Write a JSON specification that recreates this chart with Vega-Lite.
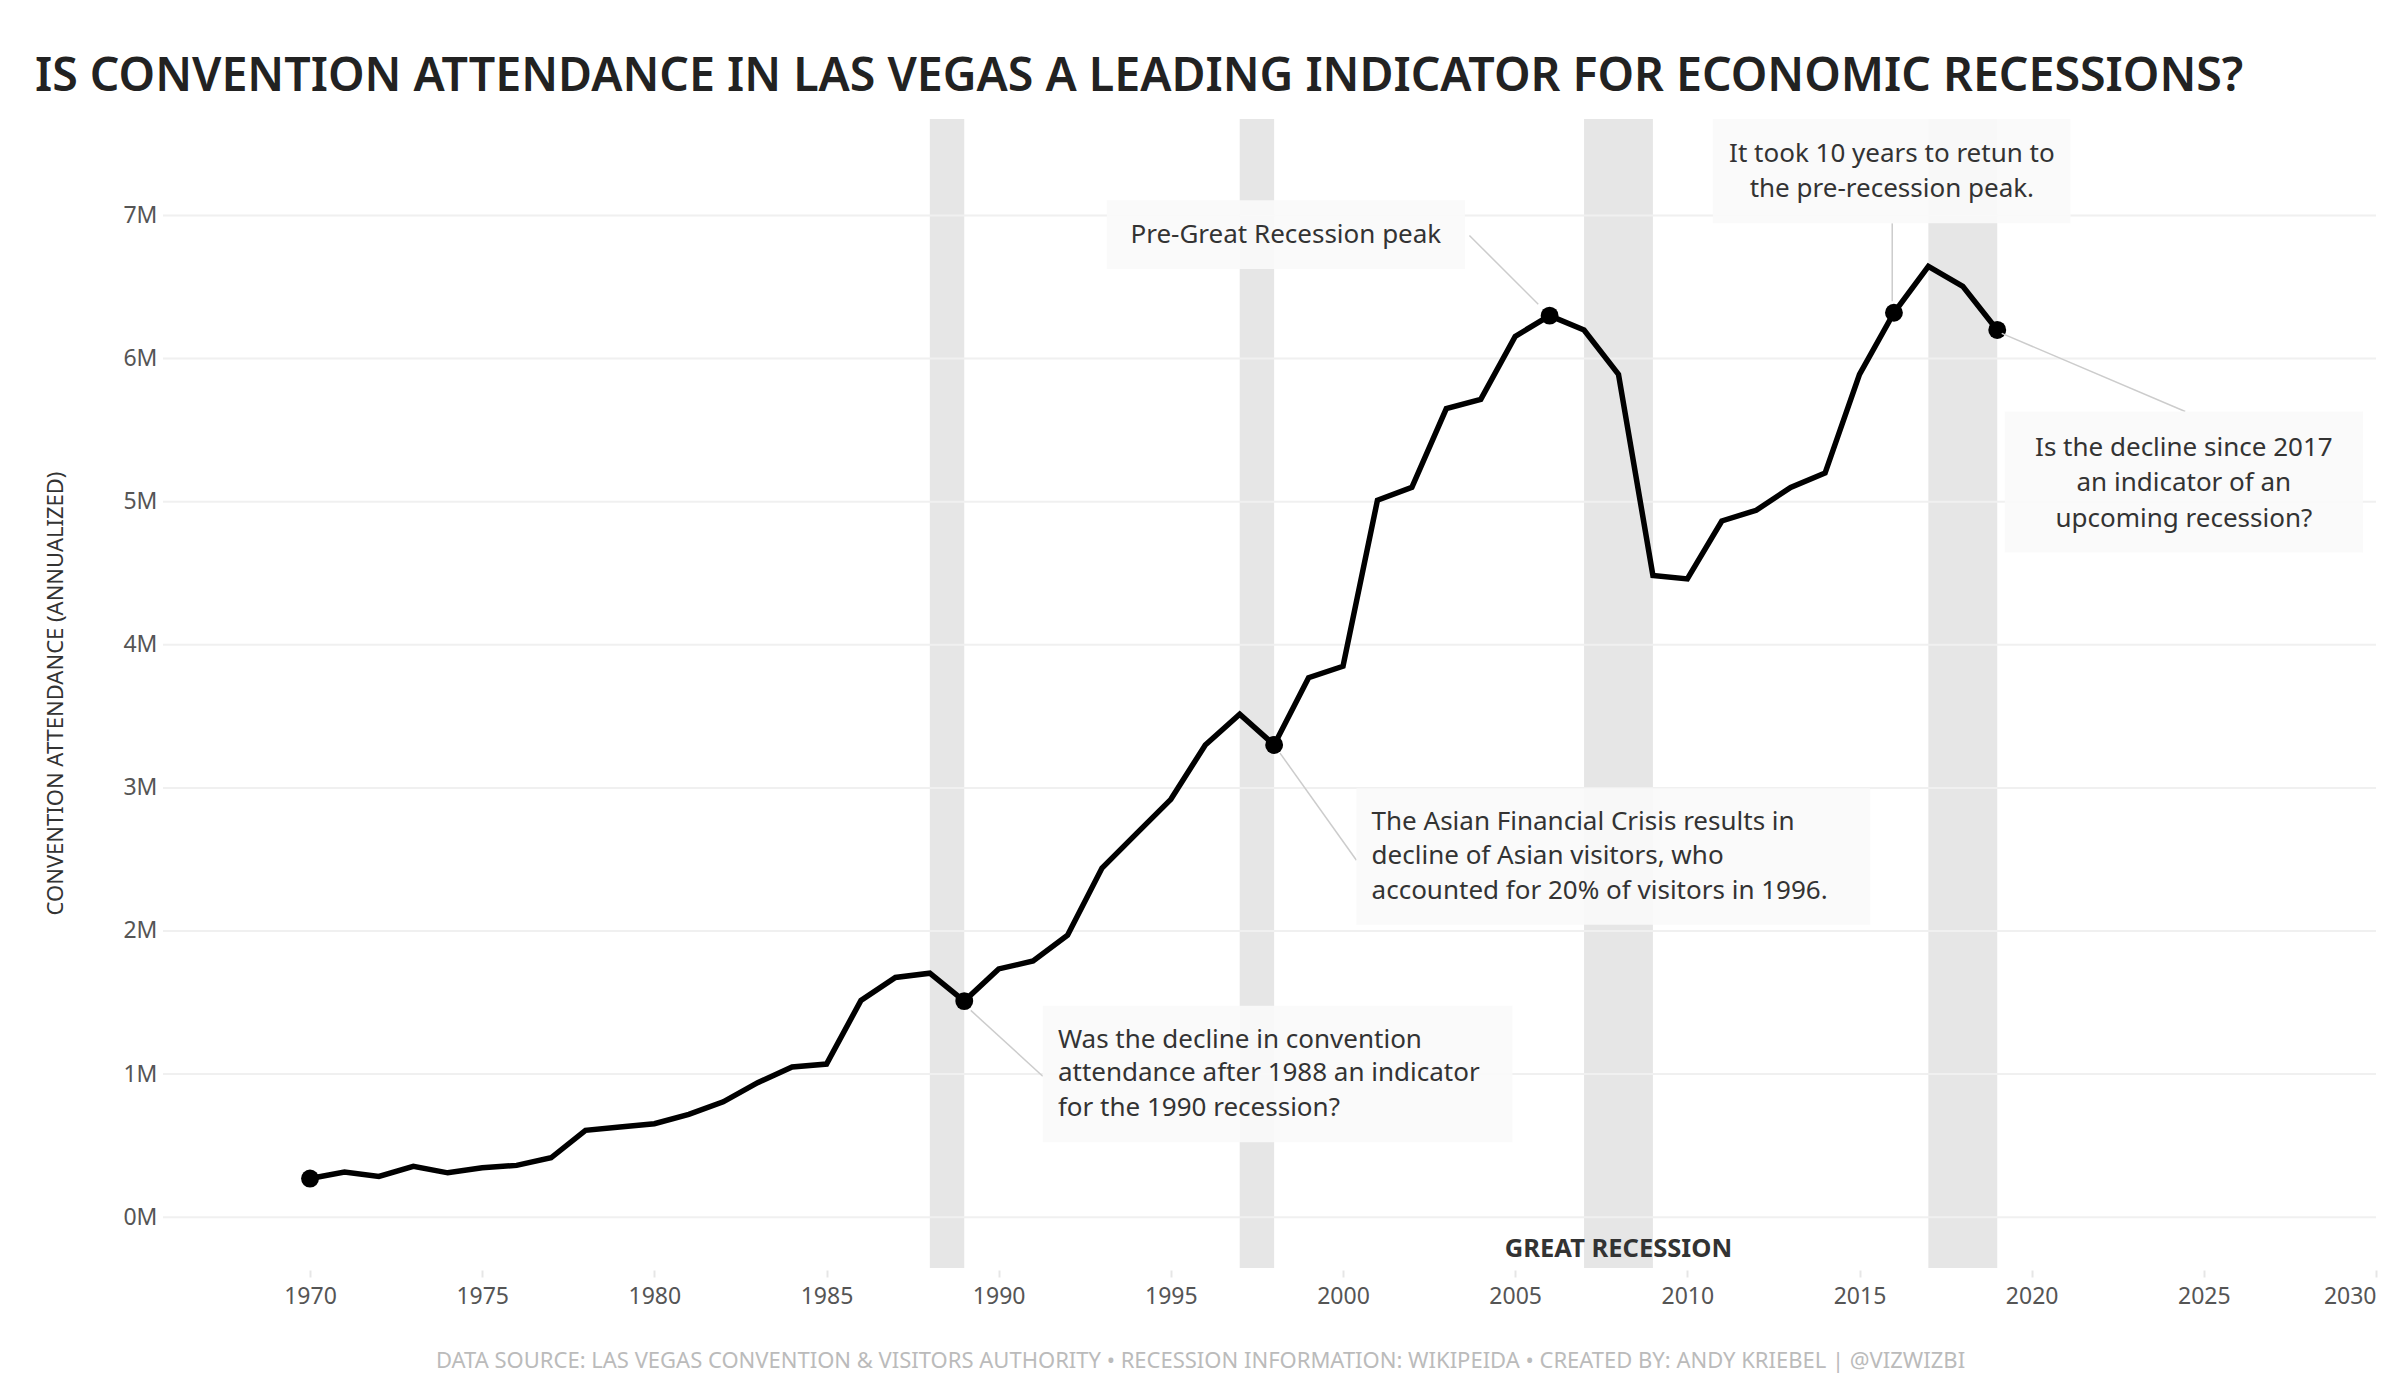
{
  "$schema": "https://vega.github.io/schema/vega-lite/v6.json",
  "width": 2213,
  "height": 1149,
  "autosize": {"type": "none"},
  "padding": {"left": 163, "top": 119, "right": 24, "bottom": 132},
  "background": "white",
  "config": {
    "view": {"stroke": null},
    "font": "Noto Sans"
  },
  "title": {
    "text": "IS CONVENTION ATTENDANCE IN LAS VEGAS A LEADING INDICATOR FOR ECONOMIC RECESSIONS?",
    "anchor": "start",
    "frame": "group",
    "dx": -128,
    "dy": 49,
    "offset": 31,
    "baseline": "alphabetic",
    "fontSize": 46.5,
    "fontWeight": 600,
    "color": "#222222",
    "font": "Noto Sans"
  },
  "datasets": {
    "attendance": [
      {"year": 1970, "attendance": 270000},
      {"year": 1971, "attendance": 315000},
      {"year": 1972, "attendance": 285000},
      {"year": 1973, "attendance": 355000},
      {"year": 1974, "attendance": 310000},
      {"year": 1975, "attendance": 345000},
      {"year": 1976, "attendance": 362000},
      {"year": 1977, "attendance": 415000},
      {"year": 1978, "attendance": 607000},
      {"year": 1979, "attendance": 630000},
      {"year": 1980, "attendance": 653000},
      {"year": 1981, "attendance": 718000},
      {"year": 1982, "attendance": 806000},
      {"year": 1983, "attendance": 940000},
      {"year": 1984, "attendance": 1050000},
      {"year": 1985, "attendance": 1070000},
      {"year": 1986, "attendance": 1515000},
      {"year": 1987, "attendance": 1675000},
      {"year": 1988, "attendance": 1705000},
      {"year": 1989, "attendance": 1510000},
      {"year": 1990, "attendance": 1735000},
      {"year": 1991, "attendance": 1790000},
      {"year": 1992, "attendance": 1970000},
      {"year": 1993, "attendance": 2440000},
      {"year": 1994, "attendance": 2680000},
      {"year": 1995, "attendance": 2920000},
      {"year": 1996, "attendance": 3300000},
      {"year": 1997, "attendance": 3515000},
      {"year": 1998, "attendance": 3300000},
      {"year": 1999, "attendance": 3770000},
      {"year": 2000, "attendance": 3850000},
      {"year": 2001, "attendance": 5010000},
      {"year": 2002, "attendance": 5100000},
      {"year": 2003, "attendance": 5650000},
      {"year": 2004, "attendance": 5715000},
      {"year": 2005, "attendance": 6155000},
      {"year": 2006, "attendance": 6300000},
      {"year": 2007, "attendance": 6200000},
      {"year": 2008, "attendance": 5890000},
      {"year": 2009, "attendance": 4485000},
      {"year": 2010, "attendance": 4460000},
      {"year": 2011, "attendance": 4865000},
      {"year": 2012, "attendance": 4940000},
      {"year": 2013, "attendance": 5100000},
      {"year": 2014, "attendance": 5200000},
      {"year": 2015, "attendance": 5890000},
      {"year": 2016, "attendance": 6320000},
      {"year": 2017, "attendance": 6645000},
      {"year": 2018, "attendance": 6505000},
      {"year": 2019, "attendance": 6200000}
    ],
    "recessions": [
      {"start": 1988, "end": 1989},
      {"start": 1997, "end": 1998},
      {"start": 2007, "end": 2009},
      {"start": 2017, "end": 2019}
    ],
    "gridlines": [
      {"value": 0}, {"value": 1000000}, {"value": 2000000}, {"value": 3000000},
      {"value": 4000000}, {"value": 5000000}, {"value": 6000000}, {"value": 7000000}
    ],
    "bandLabels": [
      {"year": 2008, "value": -225000, "label": "GREAT RECESSION"}
    ],
    "connectors": [
      {"x1": 2003.67, "y1": 6860000, "x2": 2005.67, "y2": 6380000},
      {"x1": 2015.95, "y1": 6946000, "x2": 2015.95, "y2": 6400000},
      {"x1": 2019.13, "y1": 6176000, "x2": 2024.46, "y2": 5630000},
      {"x1": 1998.17, "y1": 3243000, "x2": 2000.39, "y2": 2494000},
      {"x1": 1989.19, "y1": 1445000, "x2": 1991.28, "y2": 985000}
    ],
    "boxes": [
      {"x1": 1993.14, "x2": 2003.54, "y1": 7107000, "y2": 6625000},
      {"x1": 2010.74, "x2": 2021.13, "y1": 7674000, "y2": 6946000},
      {"x1": 2019.22, "x2": 2029.62, "y1": 5630000, "y2": 4645000},
      {"x1": 2000.39, "x2": 2015.31, "y1": 2997000, "y2": 2044000},
      {"x1": 1991.28, "x2": 2004.92, "y1": 1477000, "y2": 524000}
    ],
    "notes": [
      {"x": 1998.34, "y": 6866000, "text": "Pre-Great Recession peak", "align": "center"},
      {"x": 2015.94, "y": 7428000, "text": "It took 10 years to retun to", "align": "center"},
      {"x": 2015.94, "y": 7182000, "text": "the pre-recession peak.", "align": "center"},
      {"x": 2024.42, "y": 5373000, "text": "Is the decline since 2017", "align": "center"},
      {"x": 2024.42, "y": 5127000, "text": "an indicator of an", "align": "center"},
      {"x": 2024.42, "y": 4881000, "text": "upcoming recession?", "align": "center"},
      {"x": 2000.83, "y": 2761000, "text": "The Asian Financial Crisis results in", "align": "left"},
      {"x": 2000.83, "y": 2526000, "text": "decline of Asian visitors, who", "align": "left"},
      {"x": 2000.83, "y": 2280000, "text": "accounted for 20% of visitors in 1996.", "align": "left"},
      {"x": 1991.72, "y": 1241600, "text": "Was the decline in convention", "align": "left"},
      {"x": 1991.72, "y": 1006000, "text": "attendance after 1988 an indicator", "align": "left"},
      {"x": 1991.72, "y": 760000, "text": "for the 1990 recession?", "align": "left"}
    ]
  },
  "encoding": {
    "x": {
      "type": "quantitative",
      "scale": {"domain": [1965.73, 2030], "nice": false, "zero": false}
    },
    "y": {
      "type": "quantitative",
      "scale": {"domain": [-355000, 7674000], "nice": false, "zero": false}
    }
  },
  "layer": [
    {
      "data": {"name": "recessions"},
      "mark": {"type": "rect", "color": "#e6e6e6"},
      "encoding": {
        "x": {
          "field": "start",
          "type": "quantitative",
          "scale": {"domain": [1965.73, 2030], "nice": false, "zero": false},
          "axis": {
            "values": [1970, 1975, 1980, 1985, 1990, 1995, 2000, 2005, 2010, 2015, 2020, 2025, 2030],
            "format": "d",
            "grid": false,
            "domain": false,
            "ticks": true,
            "tickColor": "#e6e6e6",
            "tickSize": 7,
            "tickWidth": 2,
            "offset": 2,
            "labelFontSize": 23,
            "labelColor": "#555555",
            "labelPadding": 8,
            "labelFlush": true,
            "labelFont": "Noto Sans",
            "title": "DATA SOURCE: LAS VEGAS CONVENTION & VISITORS AUTHORITY • RECESSION INFORMATION: WIKIPEIDA • CREATED BY: ANDY KRIEBEL | @VIZWIZBI",
            "titleFontSize": 22,
            "titleFontWeight": "normal",
            "titleColor": "#bbbbbb",
            "titleFont": "Noto Sans",
            "titleX": 1037,
            "titleY": 90,
            "titleBaseline": "middle",
            "titleAlign": "center",
            "titleAnchor": null
          }
        },
        "x2": {"field": "end"}
      }
    },
    {
      "data": {"name": "gridlines"},
      "mark": {"type": "rule", "color": "#f0f0f0", "strokeWidth": 2},
      "encoding": {
        "y": {
          "field": "value",
          "type": "quantitative",
          "scale": {"domain": [-355000, 7674000], "nice": false, "zero": false},
          "axis": {
            "values": [0, 1000000, 2000000, 3000000, 4000000, 5000000, 6000000, 7000000],
            "labelExpr": "format(datum.value / 1000000, 'd') + 'M'",
            "grid": false,
            "domain": false,
            "ticks": false,
            "labelFontSize": 23,
            "labelColor": "#555555",
            "labelPadding": 6,
            "labelFont": "Noto Sans",
            "title": "CONVENTION ATTENDANCE (ANNUALIZED)",
            "titleFontSize": 22,
            "titleFontWeight": "normal",
            "titleColor": "#333333",
            "titleFont": "Noto Sans",
            "titleAngle": -90,
            "titleX": -108,
            "titleY": 574,
            "titleBaseline": "middle",
            "titleAlign": "center",
            "titleAnchor": null
          }
        }
      }
    },
    {
      "data": {"name": "attendance"},
      "mark": {"type": "line", "color": "#000000", "strokeWidth": 5.5, "strokeJoin": "miter"},
      "encoding": {
        "x": {"field": "year", "type": "quantitative"},
        "y": {"field": "attendance", "type": "quantitative"}
      }
    },
    {
      "data": {"name": "attendance"},
      "transform": [{"filter": {"field": "year", "oneOf": [1970, 1989, 1998, 2006, 2016, 2019]}}],
      "mark": {"type": "circle", "color": "#000000", "opacity": 1, "size": 320},
      "encoding": {
        "x": {"field": "year", "type": "quantitative"},
        "y": {"field": "attendance", "type": "quantitative"}
      }
    },
    {
      "data": {"name": "bandLabels"},
      "mark": {"type": "text", "fontSize": 25.5, "fontWeight": "bold", "color": "#333333", "align": "center", "baseline": "middle", "font": "Noto Sans"},
      "encoding": {
        "x": {"field": "year", "type": "quantitative"},
        "y": {"field": "value", "type": "quantitative"},
        "text": {"field": "label"}
      }
    },
    {
      "data": {"name": "connectors"},
      "mark": {"type": "rule", "color": "#cccccc", "strokeWidth": 1.5},
      "encoding": {
        "x": {"field": "x1", "type": "quantitative"},
        "y": {"field": "y1", "type": "quantitative"},
        "x2": {"field": "x2"},
        "y2": {"field": "y2"}
      }
    },
    {
      "data": {"name": "boxes"},
      "mark": {"type": "rect", "color": "#f9f9f9", "opacity": 0.9},
      "encoding": {
        "x": {"field": "x1", "type": "quantitative"},
        "x2": {"field": "x2"},
        "y": {"field": "y1", "type": "quantitative"},
        "y2": {"field": "y2"}
      }
    },
    {
      "data": {"name": "notes"},
      "transform": [{"filter": "datum.align === 'center'"}],
      "mark": {"type": "text", "fontSize": 26, "color": "#333333", "align": "center", "baseline": "middle", "font": "Noto Sans"},
      "encoding": {
        "x": {"field": "x", "type": "quantitative"},
        "y": {"field": "y", "type": "quantitative"},
        "text": {"field": "text"}
      }
    },
    {
      "data": {"name": "notes"},
      "transform": [{"filter": "datum.align === 'left'"}],
      "mark": {"type": "text", "fontSize": 26, "color": "#333333", "align": "left", "baseline": "middle", "font": "Noto Sans"},
      "encoding": {
        "x": {"field": "x", "type": "quantitative"},
        "y": {"field": "y", "type": "quantitative"},
        "text": {"field": "text"}
      }
    }
  ]
}
